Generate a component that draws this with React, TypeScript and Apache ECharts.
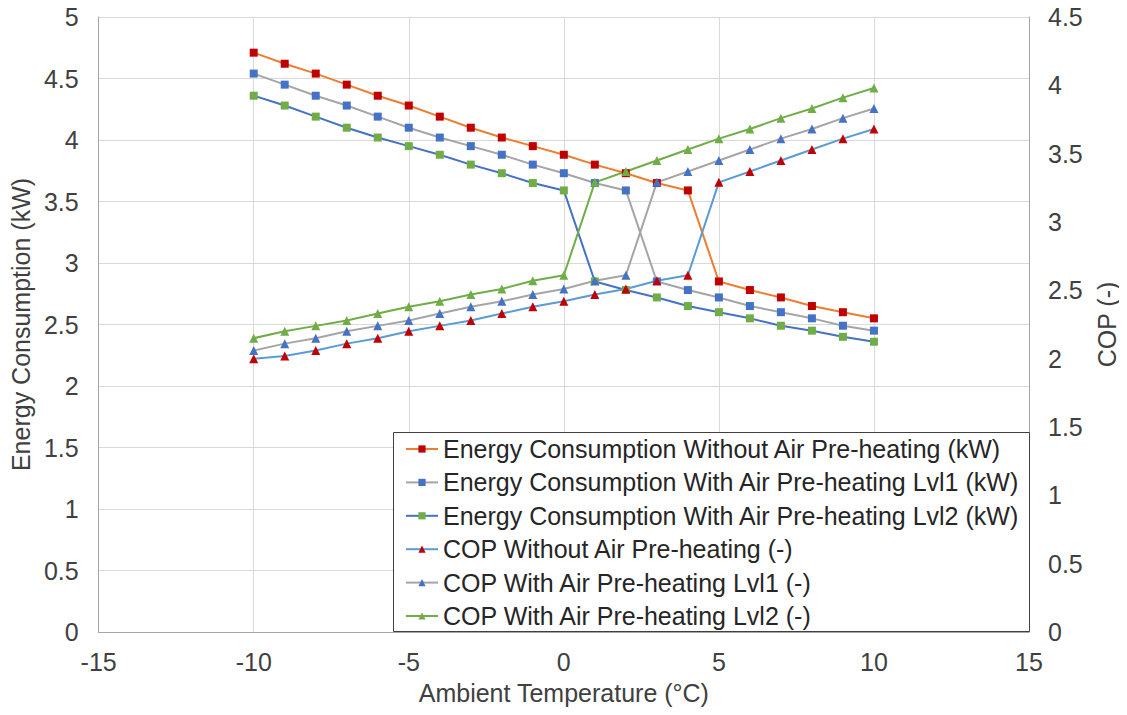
import React, { useEffect, useRef } from "react";
import * as echarts from "echarts";

const temps = [-10, -9, -8, -7, -6, -5, -4, -3, -2, -1, 0, 1, 2, 3, 4, 5, 6, 7, 8, 9, 10];

const energyWithout = [4.71, 4.62, 4.54, 4.45, 4.36, 4.28, 4.19, 4.10, 4.02, 3.95, 3.88, 3.80, 3.73, 3.65, 3.59, 2.85, 2.78, 2.72, 2.65, 2.60, 2.55];
const energyLvl1 = [4.54, 4.45, 4.36, 4.28, 4.19, 4.10, 4.02, 3.95, 3.88, 3.80, 3.73, 3.65, 3.59, 2.85, 2.78, 2.72, 2.65, 2.60, 2.55, 2.49, 2.45];
const energyLvl2 = [4.36, 4.28, 4.19, 4.10, 4.02, 3.95, 3.88, 3.80, 3.73, 3.65, 3.59, 2.85, 2.78, 2.72, 2.65, 2.60, 2.55, 2.49, 2.45, 2.40, 2.36];
const copWithout = [2.00, 2.02, 2.06, 2.11, 2.15, 2.20, 2.24, 2.28, 2.33, 2.38, 2.42, 2.47, 2.51, 2.57, 2.61, 3.29, 3.37, 3.45, 3.53, 3.61, 3.68];
const copLvl1 = [2.06, 2.11, 2.15, 2.20, 2.24, 2.28, 2.33, 2.38, 2.42, 2.47, 2.51, 2.57, 2.61, 3.29, 3.37, 3.45, 3.53, 3.61, 3.68, 3.76, 3.83];
const copLvl2 = [2.15, 2.20, 2.24, 2.28, 2.33, 2.38, 2.42, 2.47, 2.51, 2.57, 2.61, 3.29, 3.37, 3.45, 3.53, 3.61, 3.68, 3.76, 3.83, 3.91, 3.98];

const seriesNames = [
  "Energy Consumption Without Air Pre-heating (kW)",
  "Energy Consumption With Air Pre-heating Lvl1 (kW)",
  "Energy Consumption With Air Pre-heating Lvl2 (kW)",
  "COP Without Air Pre-heating (-)",
  "COP With Air Pre-heating Lvl1 (-)",
  "COP With Air Pre-heating Lvl2 (-)",
];

const FONT = "Liberation Sans, Arial, sans-serif";
const TXT = "#404040";
const FS = 25;

export default function App() {
  const ref = useRef<HTMLDivElement>(null);
  useEffect(() => {
    if (!ref.current) return;
    const chart = echarts.init(ref.current, null, { renderer: "svg" });
    const mk = (
      name: string,
      vals: number[],
      lineColor: string,
      markColor: string,
      symbol: string,
      axis: number
    ) => ({
      name,
      type: "line",
      yAxisIndex: axis,
      data: temps.map((t, i) => [t, vals[i]]),
      symbol,
      symbolSize: symbol === "rect" ? 8 : 9,
      showSymbol: true,
      lineStyle: { color: lineColor, width: 2 },
      itemStyle: { color: markColor },
      z: 3,
    });
    chart.setOption({
      animation: false,
      backgroundColor: "#fff",
      textStyle: { fontFamily: FONT },
      grid: { left: 97, right: 97, top: 17, bottom: 83, containLabel: false },
      xAxis: {
        type: "value",
        min: -15,
        max: 15,
        interval: 5,
        name: "Ambient Temperature (°C)",
        nameLocation: "middle",
        nameGap: 48,
        nameTextStyle: { fontSize: FS, color: TXT, fontFamily: FONT },
        axisLine: { show: true, onZero: false, lineStyle: { color: "#a6a6a6", width: 1 } },
        axisTick: { show: false },
        axisLabel: { fontSize: FS, color: TXT, margin: 17, fontFamily: FONT },
        splitLine: { show: true, lineStyle: { color: "#d9d9d9", width: 1 } },
      },
      yAxis: [
        {
          type: "value",
          min: 0,
          max: 5,
          interval: 0.5,
          position: "left",
          name: "Energy Consumption (kW)",
          nameLocation: "middle",
          nameGap: 63,
          nameTextStyle: { fontSize: FS, color: TXT, fontFamily: FONT },
          axisLine: { show: true, onZero: false, lineStyle: { color: "#a6a6a6", width: 1 } },
          axisTick: { show: false },
          axisLabel: { fontSize: FS, color: TXT, margin: 20, fontFamily: FONT },
          splitLine: { show: true, lineStyle: { color: "#d9d9d9", width: 1 } },
        },
        {
          type: "value",
          min: 0,
          max: 4.5,
          interval: 0.5,
          position: "right",
          name: "COP (-)",
          nameLocation: "middle",
          nameGap: 65,
          nameTextStyle: { fontSize: FS, color: TXT, fontFamily: FONT },
          axisLine: { show: true, onZero: false, lineStyle: { color: "#a6a6a6", width: 1 } },
          axisTick: { show: false },
          axisLabel: { fontSize: FS, color: TXT, margin: 19, fontFamily: FONT },
          splitLine: { show: false },
        },
      ],
      graphic: [
        {
          type: "rect",
          z: 5,
          shape: { x: 393.5, y: 432.5, width: 636, height: 199 },
          style: { fill: "#fff", stroke: "#404040", lineWidth: 1 },
        },
      ],
      legend: {
        orient: "vertical",
        left: 405,
        top: 436.5,
        z: 6,
        itemWidth: 32,
        itemHeight: 9,
        itemGap: 8.4,
        padding: 0,
        textStyle: { fontSize: FS, color: "#262626", fontFamily: FONT, lineHeight: 25 },
        data: seriesNames,
      },
      series: [
        mk(seriesNames[0], energyWithout, "#ED7D31", "#C00000", "rect", 0),
        mk(seriesNames[1], energyLvl1, "#A5A5A5", "#4472C4", "rect", 0),
        mk(seriesNames[2], energyLvl2, "#4472C4", "#70AD47", "rect", 0),
        mk(seriesNames[3], copWithout, "#5B9BD5", "#C00000", "triangle", 1),
        mk(seriesNames[4], copLvl1, "#A5A5A5", "#4472C4", "triangle", 1),
        mk(seriesNames[5], copLvl2, "#70AD47", "#70AD47", "triangle", 1),
      ],
    });
    return () => chart.dispose();
  }, []);
  return <div ref={ref} style={{ width: 1127, height: 715, margin: -8 }} />;
}
